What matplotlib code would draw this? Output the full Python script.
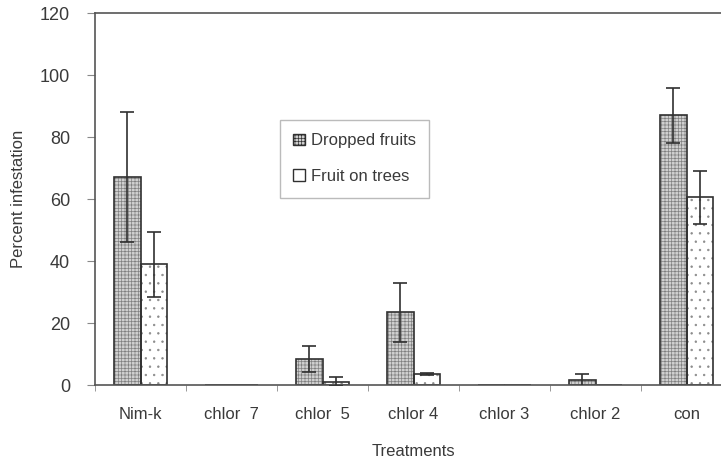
import matplotlib
matplotlib.use("Agg")
import matplotlib.pyplot as plt
import numpy as np
from matplotlib.patches import Patch

categories = ["Nim-k", "chlor  7", "chlor  5", "chlor 4", "chlor 3", "chlor 2", "con"]
dropped = [67, 0, 8.3, 23.5, 0, 1.5, 87]
dropped_err = [21, 0, 4.2, 9.5, 0, 2.0, 8.8]
trees = [39, 0, 1.1, 3.5, 0, 0, 60.5]
trees_err = [10.5, 0, 1.5, 0.3, 0, 0, 8.5]
yticks = [0, 20, 40, 60, 80, 100, 120]

plt.rcParams['font.family'] = ['Liberation Sans', 'DejaVu Sans']
plt.rcParams['hatch.linewidth'] = 0.5
txt = '#3a3a3a'
edge = '#303030'

fig = plt.figure(figsize=(7.21, 4.62), dpi=100)
ax = fig.add_axes([95/721, 1-385/462, 637/721, (385-13)/462])

x = np.arange(len(categories))
w = 0.29
# fills with hatch (hatch colour taken from edgecolor), then outlines
ax.bar(x - w/2, dropped, w, color='#d0d0d0', edgecolor='#808080', linewidth=0,
       hatch='+++++', zorder=2)
ax.bar(x + w/2, trees, w, color='white', edgecolor='#8a8a8a', linewidth=0,
       hatch='..', zorder=2)
ax.bar(x - w/2, dropped, w, fill=False, edgecolor=edge, linewidth=1.2, zorder=2.5)
ax.bar(x + w/2, trees, w, fill=False, edgecolor=edge, linewidth=1.2, zorder=2.5)
for xi, v, e in zip(x - w/2, dropped, dropped_err):
    if e > 0:
        ax.errorbar(xi, v, yerr=e, fmt='none', ecolor=edge, elinewidth=1.2,
                    capsize=5, capthick=1.2, zorder=3)
for xi, v, e in zip(x + w/2, trees, trees_err):
    if e > 0:
        ax.errorbar(xi, v, yerr=e, fmt='none', ecolor=edge, elinewidth=1.2,
                    capsize=5, capthick=1.2, zorder=3)

ax.set_xlim(-0.5, len(categories) - 0.5)
ax.set_ylim(0, 120)
ax.set_yticks(yticks)
ax.set_xticks(x)
ax.set_xticklabels(categories)
ax.set_xticks(np.arange(len(categories) + 1) - 0.5, minor=True)
ax.tick_params(axis='x', which='major', length=0, pad=16, labelsize=12, colors=txt)
ax.tick_params(axis='x', which='minor', length=4, color='#888888', direction='out')
ax.tick_params(axis='y', length=6, color='#888888', labelsize=13, colors=txt, pad=12)
for s in ax.spines.values():
    s.set_color('#555555')
    s.set_linewidth(1.2)

ax.set_ylabel('Percent infestation', fontsize=12, color=txt, labelpad=10)
ax.set_xlabel('Treatments', fontsize=12, color=txt, labelpad=16)

handles = [Patch(facecolor='#d0d0d0', edgecolor=edge, hatch='+++++', linewidth=1.0),
           Patch(facecolor='white', edgecolor=edge, linewidth=1.0)]
leg = ax.legend(handles, ['Dropped fruits', 'Fruit on trees'],
                loc='upper left', bbox_to_anchor=((280-95)/637, (385-120)/372),
                borderaxespad=0,
                frameon=True, fancybox=False, edgecolor='#aaaaaa', fontsize=12,
                handlelength=0.7, handleheight=0.7, handletextpad=0.35,
                labelspacing=1.25, borderpad=0.8, labelcolor=txt)
leg.get_frame().set_linewidth(1.0)

fig.savefig('out.png', dpi=100)
